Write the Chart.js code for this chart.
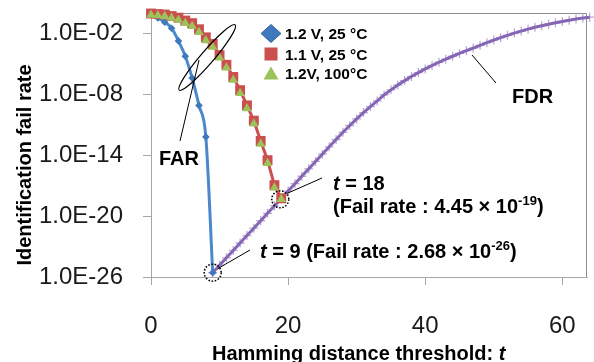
<!DOCTYPE html>
<html><head><meta charset="utf-8">
<script src="https://cdn.jsdelivr.net/npm/chart.js@4/dist/chart.umd.min.js"></script>
<style>html,body{margin:0;padding:0;background:#fff;overflow:hidden}canvas{display:block}</style>
</head><body>
<canvas id="c" width="594" height="362"></canvas>
<script>
const FONT = '"Liberation Sans", Arial, sans-serif';

// ---- data ----
const tFAR12 = [0,1,2,3,4,5,6,7,8,9];
const far12v25c = [0.63,0.32,0.126,0.0316,1.78e-3,5.62e-5,3.98e-7,7.94e-10,6.31e-13,2.68e-26];

const tFAR11 = [0,1,2,3,4,5,6,7,8,9,10,11,12,13,14,15,16,17,18,19];
const far11v25c = [0.89,0.79,0.71,0.5,0.35,0.18,0.10,0.025,4.0e-3,8.9e-4,7.1e-5,7.9e-6,5.0e-7,2.5e-8,7.9e-10,2.5e-11,2.5e-13,3.2e-15,1.1e-17,5.6e-19];
const far12v100c = [0.63,0.56,0.48,0.32,0.2,0.1,0.05,0.0126,2.0e-3,4.5e-4,4.0e-5,4.0e-6,2.5e-7,1.26e-8,4.0e-10,1.26e-11,1.26e-13,1.6e-15,6.3e-18,4.45e-19];

const tFDR = [9,10,11,12,13,14,15,16,17,18,19,20,21,22,23,24,25,26,27,28,29,30,31,32,33,34,35,36,37,38,39,40,41,42,43,44,45,46,47,48,49,50,51,52,53,54,55,56,57,58,59,60,61,62,63,64];
const fdr = [2.68e-26,1.45e-25,7.76e-25,4.17e-24,2.24e-23,1.20e-22,6.46e-22,3.47e-21,1.86e-20,1.0e-19,5.37e-19,2.88e-18,1.55e-17,8.32e-17,4.47e-16,2.40e-15,1.26e-14,6.61e-14,3.47e-13,1.78e-12,8.32e-12,3.72e-11,1.55e-10,6.03e-10,2.19e-9,8.51e-9,2.69e-8,7.94e-8,2.19e-7,5.62e-7,1.35e-6,3.09e-6,6.76e-6,1.41e-5,2.82e-5,5.50e-5,1.05e-4,1.95e-4,3.55e-4,6.61e-4,1.20e-3,2.14e-3,3.72e-3,6.31e-3,1.05e-2,1.66e-2,2.57e-2,3.89e-2,5.62e-2,7.94e-2,0.110,0.148,0.195,0.251,0.316,0.389];

const xTickValues = [0,20,40,60];
const yTickValues = [1e-2,1e-8,1e-14,1e-20,1e-26];
const seriesLabels = ['1.2 V, 25 °C','1.1 V, 25 °C','1.2V, 100°C'];
const point9 = {t: 9, rate: 2.68e-26};
const point18 = {t: 19, rate: 4.45e-19};

const C_BLUE_LINE = '#4b88cc', C_BLUE_PT = '#3f78bd';
const C_RED = '#cc4f4f', C_GREEN = '#9bc35a';
const C_PURPLE = '#8466b4', C_PURPLE_PT = '#bba9d8';

const xy = (xs, ys) => xs.map((x, i) => ({x, y: ys[i]}));

function fmtE(v){
  const e = Math.round(Math.log10(v));
  const s = Math.abs(e).toString().padStart(2,'0');
  return '1.0E' + (e < 0 ? '-' : '+') + s;
}

function runs(ctx, x, y, parts){
  for (const [txt, font, dy] of parts){
    ctx.font = font;
    ctx.fillText(txt, x, y + (dy || 0));
    x += ctx.measureText(txt).width;
  }
}

const B = `bold 20px ${FONT}`, BI = `italic bold 20px ${FONT}`, SUP = `bold 13px ${FONT}`;

const overlay = {
  id: 'overlay',
  beforeDatasetsDraw(chart){
    const {ctx, chartArea: a} = chart;
    ctx.save();
    ctx.strokeStyle = '#8c8c8c'; ctx.lineWidth = 1;
    ctx.beginPath();
    ctx.moveTo(a.left, a.top + 0.5);
    ctx.lineTo(a.right - 0.5, a.top + 0.5);
    ctx.lineTo(a.right - 0.5, a.bottom);
    ctx.stroke();
    ctx.restore();
  },
  afterDraw(chart){
    const {ctx} = chart;
    const xs = chart.scales.x, ys = chart.scales.y;
    ctx.save();
    ctx.fillStyle = '#000'; ctx.strokeStyle = '#000';
    ctx.textBaseline = 'alphabetic'; ctx.textAlign = 'left';

    // axis titles
    ctx.save();
    ctx.translate(31, 165); ctx.rotate(-Math.PI/2);
    ctx.font = B; ctx.textAlign = 'center';
    ctx.fillText('Identification fail rate', 0, 0);
    ctx.restore();
    runs(ctx, 212, 360, [['Hamming distance threshold: ', B], ['t', BI]]);

    // legend
    const lx = 271, rows = [33.5, 54, 73.5];
    ctx.fillStyle = C_BLUE_PT; ctx.strokeStyle = '#35669f'; ctx.lineWidth = 1;
    ctx.beginPath(); ctx.moveTo(lx, rows[0]-9); ctx.lineTo(lx+10, rows[0]); ctx.lineTo(lx, rows[0]+9); ctx.lineTo(lx-10, rows[0]); ctx.closePath(); ctx.fill(); ctx.stroke();
    ctx.fillStyle = C_RED; ctx.fillRect(lx-6.5, rows[1]-6.5, 13, 13);
    ctx.fillStyle = C_GREEN;
    ctx.beginPath(); ctx.moveTo(lx, rows[2]-7); ctx.lineTo(lx+7.5, rows[2]+6); ctx.lineTo(lx-7.5, rows[2]+6); ctx.closePath(); ctx.fill();
    ctx.fillStyle = '#000'; ctx.font = `bold 15.5px ${FONT}`;
    seriesLabels.forEach((s, i) => ctx.fillText(s, 285, rows[i] + 5.5));

    // ellipse around FAR curves
    ctx.lineWidth = 1.2; ctx.strokeStyle = '#000';
    ctx.beginPath(); ctx.ellipse(207.2, 57.5, 43, 6.5, -49.4*Math.PI/180, 0, 2*Math.PI); ctx.stroke();

    // leader lines
    ctx.lineWidth = 1;
    const seg = (x1,y1,x2,y2) => { ctx.beginPath(); ctx.moveTo(x1,y1); ctx.lineTo(x2,y2); ctx.stroke(); };
    seg(180, 141, 199, 60);
    seg(472, 55, 496, 83);

    const c9 = {x: xs.getPixelForValue(point9.t), y: ys.getPixelForValue(point9.rate)};
    const c18 = {x: xs.getPixelForValue(point18.t), y: ys.getPixelForValue(point18.rate)};
    seg(322, 178, c18.x + 6, c18.y - 6);
    seg(250, 250, c9.x + 5, c9.y - 4);

    // dotted circles
    ctx.setLineDash([1.6, 1.6]); ctx.lineWidth = 1.5;
    ctx.beginPath(); ctx.arc(c9.x, c9.y, 8.5, 0, 2*Math.PI); ctx.stroke();
    ctx.beginPath(); ctx.arc(c18.x - 1, c18.y, 8.5, 0, 2*Math.PI); ctx.stroke();
    ctx.setLineDash([]);

    // labels
    ctx.font = B;
    ctx.fillText('FAR', 159, 165);
    ctx.fillText('FDR', 512, 103);
    runs(ctx, 333, 190, [['t', BI], [' = 18', B]]);
    runs(ctx, 333, 213, [['(Fail rate : 4.45 × 10', B], ['-19', SUP, -8], [')', B]]);
    runs(ctx, 260, 258, [['t', BI], [' = 9 (Fail rate : 2.68 × 10', B], ['-26', SUP, -8], [')', B]]);
    ctx.restore();
  }
};

new Chart(document.getElementById('c'), {
  type: 'line',
  data: {
    datasets: [
      { label: seriesLabels[2], data: xy(tFAR11, far12v100c), showLine: false,
        pointStyle: 'triangle', pointRadius: 5.5, pointBackgroundColor: C_GREEN, pointBorderColor: C_GREEN, pointBorderWidth: 0, order: 0, clip: false },
      { label: seriesLabels[1], data: xy(tFAR11, far11v25c), borderColor: C_RED, borderWidth: 3,
        pointStyle: 'rect', pointRadius: 7, pointBackgroundColor: C_RED, pointBorderColor: C_RED, pointBorderWidth: 0, order: 1, clip: false },
      { label: seriesLabels[0], data: xy(tFAR12, far12v25c), borderColor: C_BLUE_LINE, borderWidth: 3, cubicInterpolationMode: 'monotone',
        pointStyle: 'rectRot', pointRadius: 3.8, pointBackgroundColor: C_BLUE_PT, pointBorderColor: C_BLUE_PT, pointBorderWidth: 0, order: 2, clip: false },
      { label: 'FDR', data: xy(tFDR, fdr), borderColor: C_PURPLE, borderWidth: 3, pointRadius: 0, order: 3, clip: false },
      { label: 'FDR markers', data: xy(tFDR, fdr), showLine: false, pointStyle: 'cross', pointRadius: 4.5,
        pointBorderColor: C_PURPLE_PT, pointBorderWidth: 1.3, order: 4, clip: false }
    ]
  },
  options: {
    responsive: false, animation: false, devicePixelRatio: 1,
    layout: { padding: { top: 13, right: 3, left: 0, bottom: 0 } },
    plugins: { legend: { display: false }, tooltip: { enabled: false } },
    scales: {
      x: {
        type: 'linear', min: 0, max: 63.6,
        afterBuildTicks: s => { s.ticks = xTickValues.map(v => ({value: v})); },
        afterFit: s => { s.height = 85; s.paddingLeft = 0; s.paddingRight = 0; },
        grid: { drawOnChartArea: false, drawTicks: true, tickLength: 8, color: '#a6a6a6' },
        border: { display: true, color: '#a6a6a6', width: 1 },
        ticks: { autoSkip: false, maxRotation: 0, padding: 27, color: '#1a1a1a', font: { family: FONT, size: 24 } }
      },
      y: {
        type: 'logarithmic', min: 1e-26, max: 1,
        afterBuildTicks: s => { s.ticks = yTickValues.map(v => ({value: v})); },
        afterFit: s => { s.width = 151; s.paddingTop = 0; s.paddingBottom = 0; },
        grid: { drawOnChartArea: false, drawTicks: true, tickLength: 8, color: '#a6a6a6' },
        border: { display: true, color: '#a6a6a6', width: 1 },
        ticks: { autoSkip: false, padding: 20, color: '#1a1a1a', font: { family: FONT, size: 24 }, callback: v => fmtE(v) }
      }
    }
  },
  plugins: [overlay]
});
</script>
</body></html>
